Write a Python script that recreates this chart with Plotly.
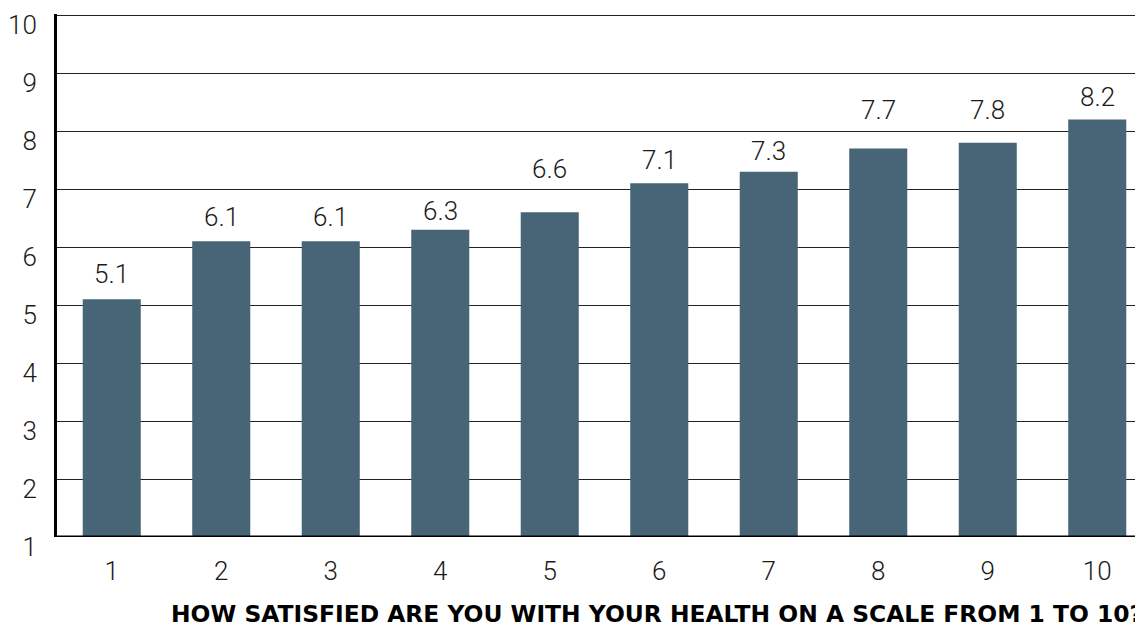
import plotly.graph_objects as go

categories = ["1", "2", "3", "4", "5", "6", "7", "8", "9", "10"]
values = [5.1, 6.1, 6.1, 6.3, 6.6, 7.1, 7.3, 7.7, 7.8, 8.2]
value_labels = ["5.1", "6.1", "6.1", "6.3", "6.6", "7.1", "7.3", "7.7", "7.8", "8.2"]
y_ticks = [1, 2, 3, 4, 5, 6, 7, 8, 9, 10]
x_title = "HOW SATISFIED ARE YOU WITH YOUR HEALTH ON A SCALE FROM 1 TO 10?"

# styling: per-label pixel lift above bar top (labels avoid gridlines in the original)
label_lift_px = [8, 7, 7, 2, 26, 6, 4, 22, 16, 6]

xpos = [int(c) for c in categories]
FONT = "Roboto"
BAR = "rgb(71,101,119)"
TXT = "#1a1a1a"

fig = go.Figure()
fig.add_trace(go.Bar(x=xpos, y=values, width=0.53, marker=dict(color=BAR, line=dict(width=0)),
                     hoverinfo="skip"))

for xv, yv, lab, lift in zip(xpos, values, value_labels, label_lift_px):
    fig.add_annotation(x=xv, y=yv, text=lab, showarrow=False, yanchor="bottom", yshift=lift,
                       font=dict(family=FONT, size=26, color=TXT, weight=300))

# page has 8px body margin: figure offset by (8, 8)
fig.add_annotation(x=(159 - 47) / 1097, y=-0.148, xref="paper", yref="paper", text=x_title,
                   showarrow=False, xanchor="left", yanchor="middle",
                   font=dict(family="DejaVu Sans", size=23.4, color="#000000", weight="bold"))

fig.update_layout(
    width=1144, height=623,
    margin=dict(l=47, r=0, t=6, b=94),
    plot_bgcolor="white", paper_bgcolor="white",
    showlegend=False,
)
fig.update_xaxes(
    range=[0.5, 10.5], tickvals=xpos, ticktext=categories, ticks="",
    showgrid=False, zeroline=False, showline=False,
    ticklabelstandoff=16,
    tickfont=dict(family=FONT, size=26, color=TXT, weight=300),
)
fig.update_yaxes(
    range=[1, 10.02], tickvals=y_ticks, ticks="", showgrid=True, gridcolor="#222222", gridwidth=1,
    zeroline=False, showline=True, linecolor="#000000", linewidth=3, mirror=False,
    ticklabelshift=10, ticklabelstandoff=12,
    tickfont=dict(family=FONT, size=26, color=TXT, weight=300),
)
# bottom axis line
fig.add_shape(type="line", xref="paper", yref="y", x0=0, x1=1, y0=1, y1=1,
              line=dict(color="#000000", width=3))

fig.write_html("out.html")
